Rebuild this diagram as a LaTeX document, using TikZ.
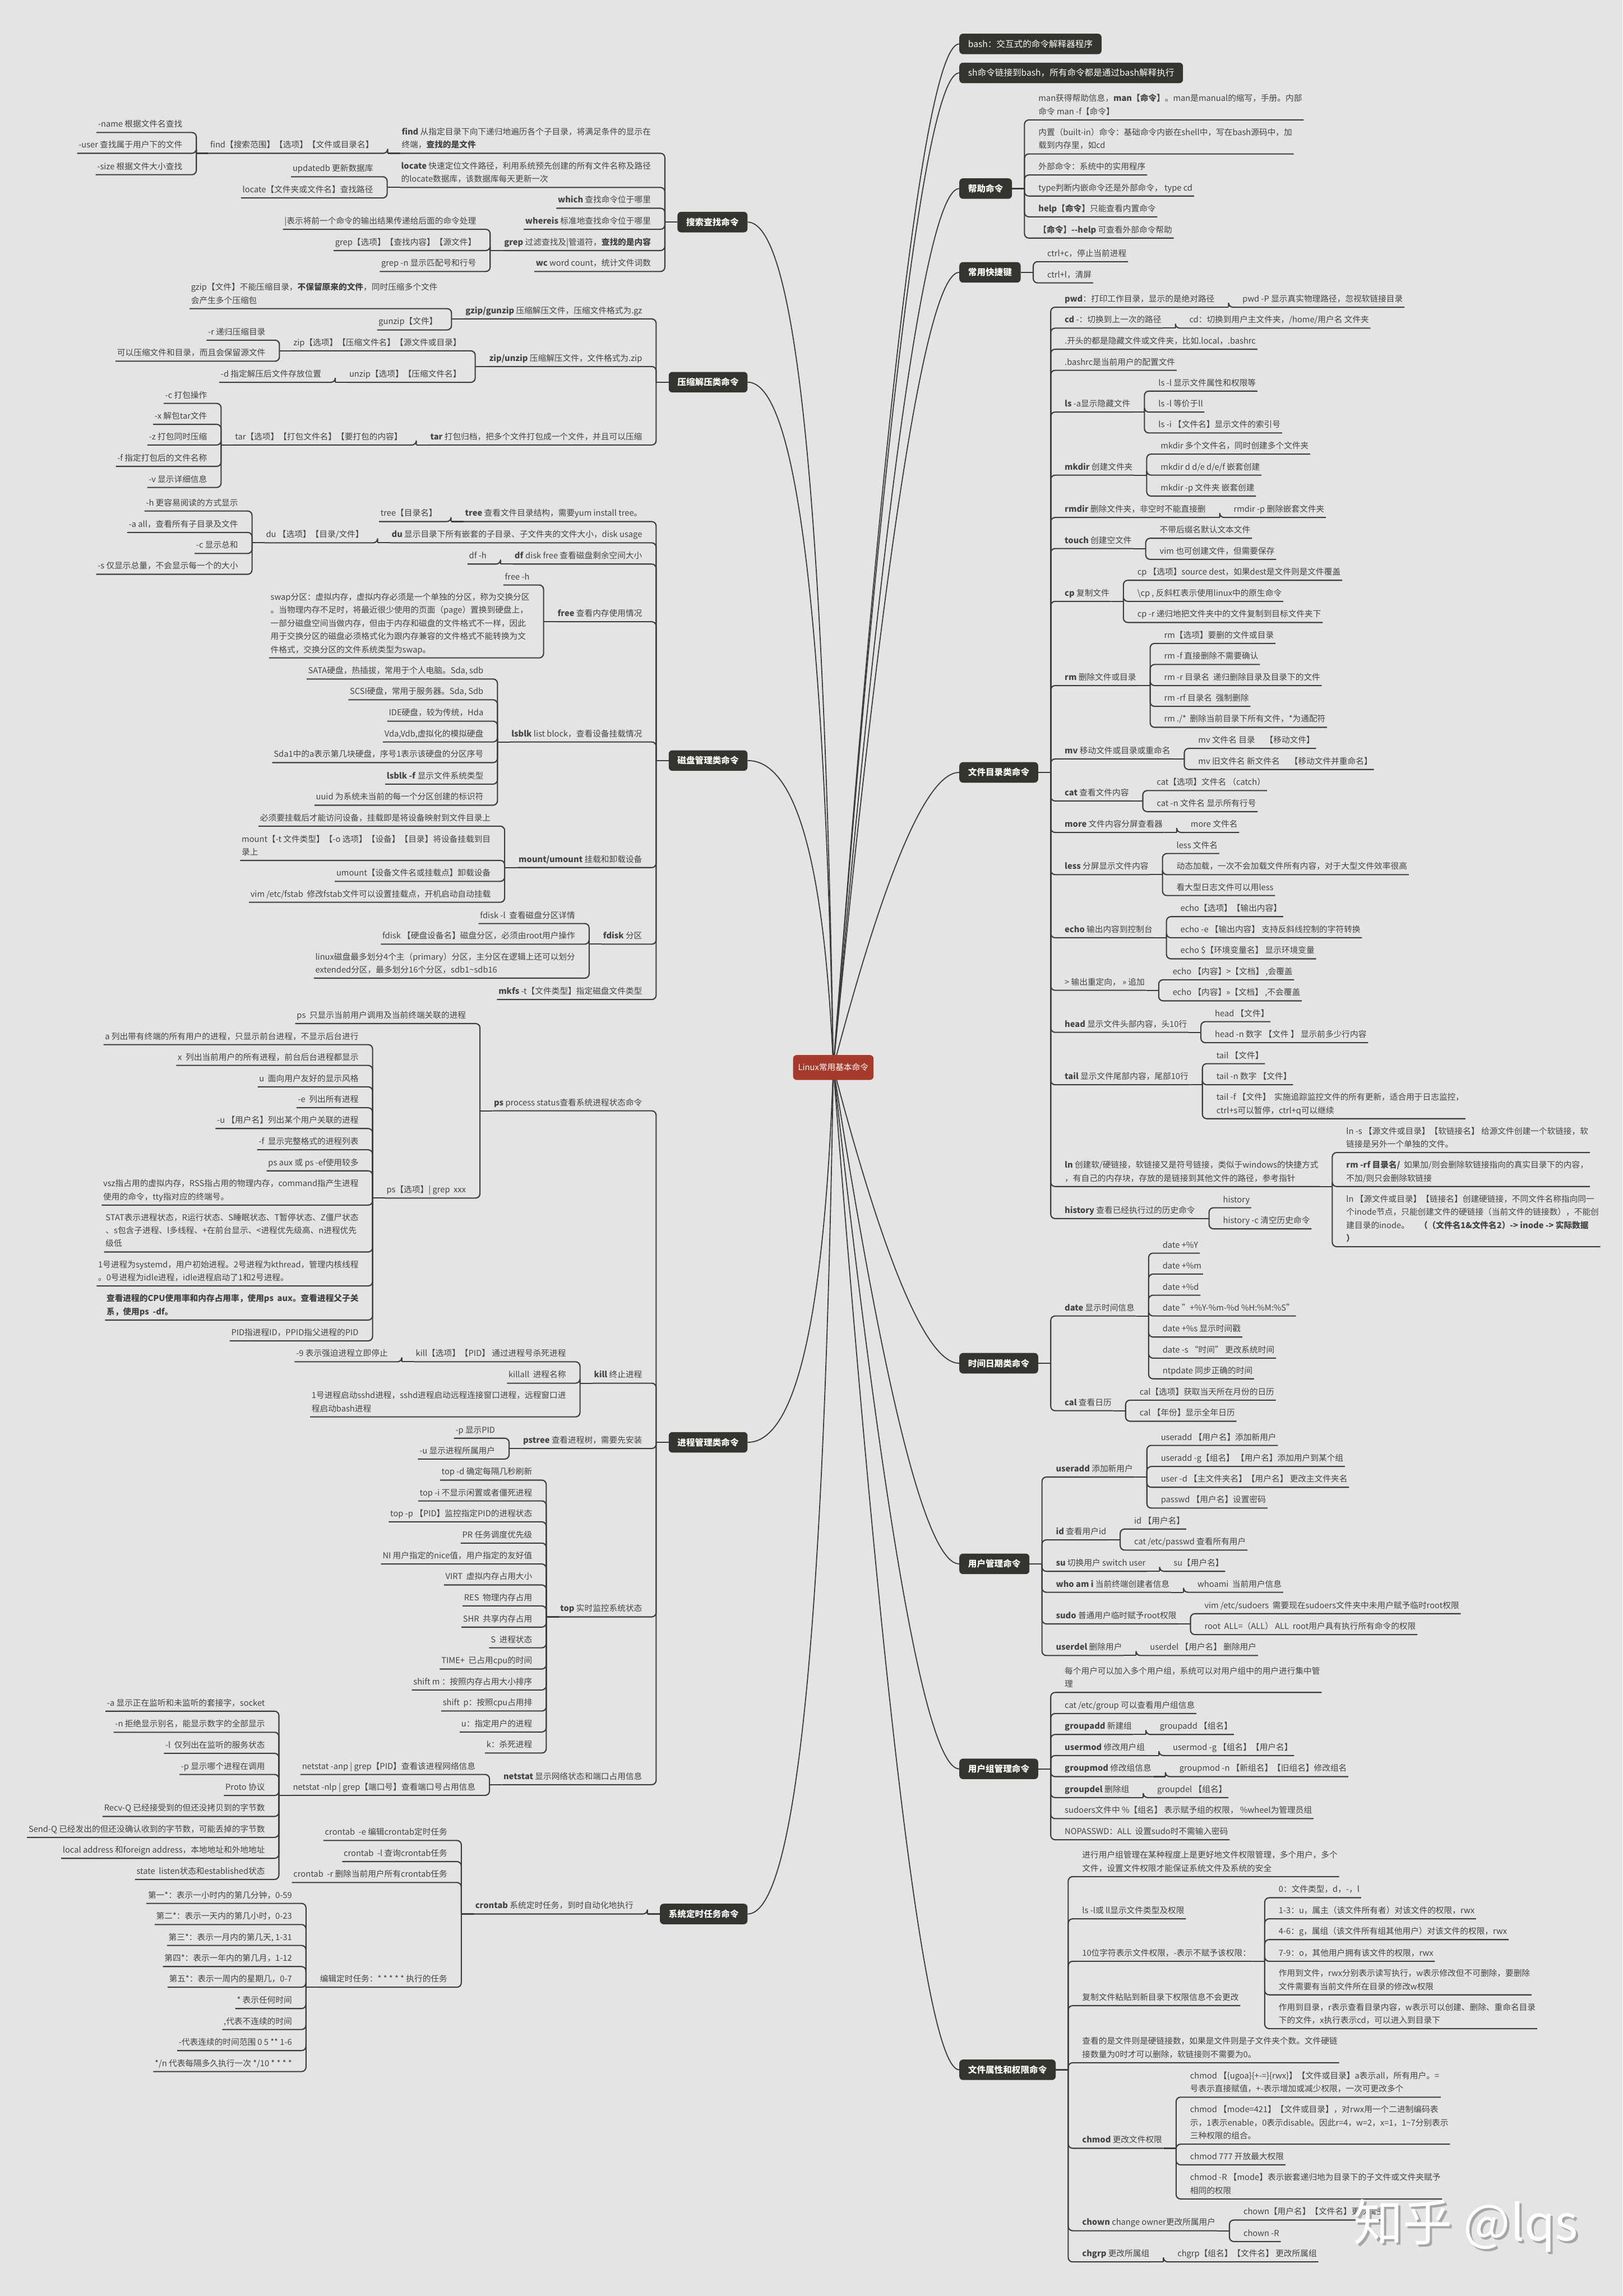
\documentclass[tikz,border=0pt]{standalone}
\usepackage{fontspec}
\setmainfont{Noto Sans CJK SC}
\usetikzlibrary{calc}
\definecolor{bgc}{HTML}{E4E4E4}
\definecolor{lnc}{HTML}{3C3C3C}
\definecolor{txc}{HTML}{444444}
\definecolor{tpc}{HTML}{35352F}
\definecolor{rtc}{HTML}{A63A2B}
% nhanh ben phai: #1 ten, #2 nut cha, #3 y, #4 chu
\newcommand{\kidR}[4]{%
  \node[leaf,anchor=south west,xshift=8.5mm] (#1) at (#2-s |- 0,#3) {#4};
  \draw[link] (#2-e) -- (#2-s);
  \draw[link,rounded corners=3mm] (#2-s) |- (#1.south east);
  \coordinate (#1-e) at (#1.south east);
  \coordinate (#1-s) at ([xshift=8.5mm]#1.south east);}
% nhanh ben trai
\newcommand{\kidL}[4]{%
  \node[leaf,anchor=south east,xshift=-8.5mm] (#1) at (#2-s |- 0,#3) {#4};
  \draw[link] (#2-e) -- (#2-s);
  \draw[link,rounded corners=3mm] (#2-s) |- (#1.south west);
  \coordinate (#1-e) at (#1.south west);
  \coordinate (#1-s) at ([xshift=-8.5mm]#1.south west);}
% chu de chinh
\newcommand{\topicR}[4][]{%
  \node[topic,anchor=west,#1] (#2) at (655,#3) {#4};
  \draw[curve] (rc) .. controls ($(rc)!2/3!(622,#3)$) and ($(#2.west)!2/3!(622,#3)$) .. (#2.west);
  \coordinate (#2-e) at (#2.east);
  \coordinate (#2-s) at ([xshift=8.5mm]#2.east);}
\newcommand{\topicL}[3]{%
  \node[topic,anchor=east] (#1) at (510.5,#2) {#3};
  \draw[curve] (rc) .. controls ($(rc)!2/3!(560,#2)$) and ($(#1.east)!2/3!(560,#2)$) .. (#1.east);
  \coordinate (#1-e) at (#1.west);
  \coordinate (#1-s) at ([xshift=-8.5mm]#1.west);}
\begin{document}
\begin{tikzpicture}[x=1mm,y=-1mm,
  leaf/.style={font=\fontsize{16}{25.5}\selectfont,text=txc,align=left,inner xsep=1mm,inner ysep=0.9mm,execute at end node=\strut},
  link/.style={draw=lnc,line width=0.8mm},
  curve/.style={draw=lnc,line width=0.7mm},
  topic/.style={fill=tpc,text=white,font=\fontsize{17}{20}\selectfont\bfseries,rounded corners=2.5mm,inner xsep=6mm,minimum height=14mm},
  plain/.style={font=\fontsize{17}{20}\selectfont},
  root/.style={fill=rtc,text=white,font=\fontsize{16}{20}\selectfont,rounded corners=2.5mm,inner xsep=3.5mm,minimum height=17mm}]
\path[use as bounding box,fill=bgc] (0,0) rectangle (1108,1568);
\coordinate (rc) at (569,729);

%Bash
\topicR[plain]{bs}{30}{bash：交互式的命令解释器程序}
\topicR[plain]{sh}{49.8}{sh命令链接到bash，所有命令都是通过bash解释执行}

%Tro giup
\topicR{hp}{128.8}{帮助命令}
\kidR{hp1}{hp}{81.9}{man获得帮助信息，\textbf{man【命令】}。man是manual的缩写，手册。内部\\命令 man -f【命令】}
\kidR{hp2}{hp}{105.1}{内置（built-in）命令：基础命令内嵌在shell中，写在bash源码中，加\\载到内存里，如cd}
\kidR{hp3}{hp}{119.5}{外部命令：系统中的实用程序}
\kidR{hp4}{hp}{133.9}{type判断内嵌命令还是外部命令， type cd}
\kidR{hp5}{hp}{148.1}{\textbf{help【命令】}只能查看内置命令}
\kidR{hp6}{hp}{162.6}{\textbf{【命令】-{}-help} 可查看外部命令帮助}

%Phim tat
\topicR{kb}{186}{常用快捷键}
\kidR{kb1}{kb}{178.7}{ctrl+c，停止当前进程}
\kidR{kb2}{kb}{193.2}{ctrl+l，清屏}

%Thu muc
\topicR{fd}{527.5}{文件目录类命令}
\kidR{fd1}{fd}{209.8}{\textbf{pwd}：打印工作目录，显示的是绝对路径}
\kidR{fd1a}{fd1}{209.8}{pwd -P 显示真实物理路径，忽视软链接目录}
\kidR{fd2}{fd}{224.1}{\textbf{cd} -：切换到上一次的路径}
\kidR{fd2a}{fd2}{224.1}{cd：切换到用户主文件夹，/home/用户名 文件夹}
\kidR{fd3}{fd}{238.5}{.开头的都是隐藏文件或文件夹，比如.local，.bashrc}
\kidR{fd4}{fd}{252.9}{.bashrc是当前用户的配置文件}
\kidR{fd5}{fd}{281.4}{\textbf{ls} -a显示隐藏文件}
\kidR{fd5a}{fd5}{267.1}{ls -l 显示文件属性和权限等}
\kidR{fd5b}{fd5}{281.4}{ls -l 等价于ll}
\kidR{fd5c}{fd5}{295.7}{ls -i 【文件名】显示文件的索引号}
\kidR{fd6}{fd}{324.5}{\textbf{mkdir} 创建文件夹}
\kidR{fd6a}{fd6}{310.1}{mkdir 多个文件名，同时创建多个文件夹}
\kidR{fd6b}{fd6}{324.5}{mkdir d d/e d/e/f 嵌套创建}
\kidR{fd6c}{fd6}{338.8}{mkdir -p 文件夹 嵌套创建}
\kidR{fd7}{fd}{353.4}{\textbf{rmdir} 删除文件夹，非空时不能直接删}
\kidR{fd7a}{fd7}{353.4}{rmdir -p 删除嵌套文件夹}
\kidR{fd8}{fd}{374.6}{\textbf{touch} 创建空文件}
\kidR{fd8a}{fd8}{367.6}{不带后缀名默认文本文件}
\kidR{fd8b}{fd8}{382.0}{vim 也可创建文件，但需要保存}
\kidR{fd9}{fd}{410.7}{\textbf{cp} 复制文件}
\kidR{fd9a}{fd9}{396.3}{cp 【选项】source dest，如果dest是文件则是文件覆盖}
\kidR{fd9b}{fd9}{410.7}{\textbackslash cp , 反斜杠表示使用linux中的原生命令}
\kidR{fd9c}{fd9}{425.1}{cp -r 递归地把文件夹中的文件复制到目标文件夹下}
\kidR{fd10}{fd}{468.2}{\textbf{rm} 删除文件或目录}
\kidR{fd10a}{fd10}{439.4}{rm【选项】要删的文件或目录}
\kidR{fd10b}{fd10}{453.8}{rm -f 直接删除不需要确认}
\kidR{fd10c}{fd10}{468.2}{rm -r 目录名 \ 递归删除目录及目录下的文件}
\kidR{fd10d}{fd10}{482.4}{rm -rf 目录名 \ 强制删除}
\kidR{fd10e}{fd10}{496.7}{rm ./* \ 删除当前目录下所有文件，*为通配符}
\kidR{fd11}{fd}{518.3}{\textbf{mv} 移动文件或目录或重命名}
\kidR{fd11a}{fd11}{511.1}{mv 文件名 目录 \quad【移动文件】}
\kidR{fd11b}{fd11}{525.5}{mv 旧文件名 新文件名 \quad【移动文件并重命名】}
\kidR{fd12}{fd}{547.0}{\textbf{cat} 查看文件内容}
\kidR{fd12a}{fd12}{539.9}{cat【选项】文件名 （catch）}
\kidR{fd12b}{fd12}{554.3}{cat -n 文件名 显示所有行号}
\kidR{fd13}{fd}{568.5}{\textbf{more} 文件内容分屏查看器}
\kidR{fd13a}{fd13}{568.5}{more 文件名}
\kidR{fd14}{fd}{597.3}{\textbf{less} 分屏显示文件内容}
\kidR{fd14a}{fd14}{582.9}{less 文件名}
\kidR{fd14b}{fd14}{597.3}{动态加载，一次不会加载文件所有内容，对于大型文件效率很高}
\kidR{fd14c}{fd14}{611.6}{看大型日志文件可以用less}
\kidR{fd15}{fd}{640.4}{\textbf{echo} 输出内容到控制台}
\kidR{fd15a}{fd15}{626.0}{echo【选项】【输出内容】}
\kidR{fd15b}{fd15}{640.4}{echo -e 【输出内容】 支持反斜线控制的字符转换}
\kidR{fd15c}{fd15}{654.8}{echo \$【环境变量名】 显示环境变量}
\kidR{fd16}{fd}{676.3}{> 输出重定向， >> 追加}
\kidR{fd16a}{fd16}{669.1}{echo 【内容】>【文档】 ,会覆盖}
\kidR{fd16b}{fd16}{683.5}{echo 【内容】>>【文档】 ,不会覆盖}
\kidR{fd17}{fd}{705.0}{\textbf{head} 显示文件头部内容，头10行}
\kidR{fd17a}{fd17}{697.7}{head 【文件】}
\kidR{fd17b}{fd17}{712.1}{head -n 数字 【文件 】 显示前多少行内容}
\kidR{fd18}{fd}{740.8}{\textbf{tail} 显示文件尾部内容，尾部10行}
\kidR{fd18a}{fd18}{726.4}{tail 【文件】}
\kidR{fd18b}{fd18}{740.8}{tail -n 数字 【文件】}
\kidR{fd18c}{fd18}{764.0}{tail -f 【文件】 \ 实施追踪监控文件的所有更新，适合用于日志监控，\\ctrl+s可以暂停，ctrl+q可以继续}
\kidR{fd19}{fd}{810.3}{\textbf{ln} 创建软/硬链接，软链接又是符号链接，类似于windows的快捷方式\\，有自己的内存块，存放的是链接到其他文件的路径，参考指针}
\kidR{fd19a}{fd19}{787.1}{ln -s 【源文件或目录】【软链接名】 给源文件创建一个软链接，软\\链接是另外一个单独的文件。}
\kidR{fd19b}{fd19}{810.3}{\textbf{rm -rf 目录名/} \ 如果加/则会删除软链接指向的真实目录下的内容，\\不加/则只会删除软链接}
\kidR{fd19c}{fd19}{851.4}{ln 【源文件或目录】【链接名】创建硬链接，不同文件名称指向同一\\个inode节点，只能创建文件的硬链接（当前文件的链接数），不能创\\建目录的inode。 \quad \textbf{（（文件名1\&文件名2）-> inode -> 实际数据}\\\textbf{）}}
\kidR{fd20}{fd}{832.2}{\textbf{history} 查看已经执行过的历史命令}
\kidR{fd20a}{fd20}{824.8}{history}
\kidR{fd20b}{fd20}{839.2}{history -c 清空历史命令}

%Thoi gian
\topicR{td}{931}{时间日期类命令}
\kidR{td1}{td}{898.7}{\textbf{date} 显示时间信息}
\kidR{td1a}{td1}{855.8}{date +\%Y}
\kidR{td1b}{td1}{870.1}{date +\%m}
\kidR{td1c}{td1}{884.5}{date +\%d}
\kidR{td1d}{td1}{898.7}{date "+\%Y-\%m-\%d \%H:\%M:\%S"}
\kidR{td1e}{td1}{913.1}{date +\%s 显示时间戳}
\kidR{td1f}{td1}{927.5}{date -s “时间” 更改系统时间}
\kidR{td1g}{td1}{941.6}{ntpdate 同步正确的时间}
\kidR{td2}{td}{963.4}{\textbf{cal} 查看日历}
\kidR{td2a}{td2}{956.2}{cal【选项】获取当天所在月份的日历}
\kidR{td2b}{td2}{970.6}{cal 【年份】显示全年日历}

%Nguoi dung
\topicR{us}{1068}{用户管理命令}
\kidR{us1}{us}{1008.7}{\textbf{useradd} 添加新用户}
\kidR{us1a}{us1}{987.1}{useradd 【用户名】添加新用户}
\kidR{us1b}{us1}{1001.5}{useradd -g【组名】 【用户名】添加用户到某个组}
\kidR{us1c}{us1}{1015.7}{user -d 【主文件夹名】【用户名】 更改主文件夹名}
\kidR{us1d}{us1}{1029.9}{passwd 【用户名】设置密码}
\kidR{us2}{us}{1051.6}{\textbf{id} 查看用户id}
\kidR{us2a}{us2}{1044.2}{id 【用户名】}
\kidR{us2b}{us2}{1058.6}{cat /etc/passwd 查看所有用户}
\kidR{us3}{us}{1073.1}{\textbf{su} 切换用户 switch user}
\kidR{us3a}{us3}{1073.1}{su【用户名】}
\kidR{us4}{us}{1087.4}{\textbf{who am i} 当前终端创建者信息}
\kidR{us4a}{us4}{1087.4}{whoami \ 当前用户信息}
\kidR{us5}{us}{1109.0}{\textbf{sudo} 普通用户临时赋予root权限}
\kidR{us5a}{us5}{1102.0}{vim /etc/sudoers \ 需要现在sudoers文件夹中未用户赋予临时root权限}
\kidR{us5b}{us5}{1116.3}{root \ ALL=（ALL） ALL \ root用户具有执行所有命令的权限}
\kidR{us6}{us}{1130.6}{\textbf{userdel} 删除用户}
\kidR{us6a}{us6}{1130.6}{userdel 【用户名】 删除用户}

%Nhom
\topicR{gp}{1208}{用户组管理命令}
\kidR{gp1}{gp}{1155.8}{每个用户可以加入多个用户组，系统可以对用户组中的用户进行集中管\\理}
\kidR{gp2}{gp}{1170.2}{cat /etc/group 可以查看用户组信息}
\kidR{gp3}{gp}{1184.5}{\textbf{groupadd} 新建组}
\kidR{gp3a}{gp3}{1184.5}{groupadd 【组名】}
\kidR{gp4}{gp}{1198.9}{\textbf{usermod} 修改用户组}
\kidR{gp4a}{gp4}{1198.9}{usermod -g 【组名】【用户名】}
\kidR{gp5}{gp}{1213.3}{\textbf{groupmod} 修改组信息}
\kidR{gp5a}{gp5}{1213.3}{groupmod -n 【新组名】【旧组名】修改组名}
\kidR{gp6}{gp}{1227.6}{\textbf{groupdel} 删除组}
\kidR{gp6a}{gp6}{1227.6}{groupdel 【组名】}
\kidR{gp7}{gp}{1242.0}{sudoers文件中 \%【组名】 表示赋予组的权限， \%wheel为管理员组}
\kidR{gp8}{gp}{1256.4}{NOPASSWD：ALL \ 设置sudo时不需输入密码}

%Quyen
\topicR{pm}{1413.5}{文件属性和权限命令}
\kidR{pm1}{pm}{1281.6}{进行用户组管理在某种程度上是更好地文件权限管理，多个用户，多个\\文件，设置文件权限才能保证系统文件及系统的安全}
\kidR{pm2}{pm}{1310.4}{ls -l或 ll显示文件类型及权限}
\kidR{pm3}{pm}{1339.4}{10位字符表示文件权限，-表示不赋予该权限：}
\kidR{pm3a}{pm3}{1296.0}{0：文件类型，d，-，l}
\kidR{pm3b}{pm3}{1310.4}{1-3：u，属主（该文件所有者）对该文件的权限，rwx}
\kidR{pm3c}{pm3}{1324.6}{4-6：g，属组（该文件所有组其他用户）对该文件的权限，rwx}
\kidR{pm3d}{pm3}{1339.4}{7-9：o，其他用户拥有该文件的权限，rwx}
\kidR{pm3e}{pm3}{1362.3}{作用到文件，rwx分别表示读写执行，w表示修改但不可删除，要删除\\文件需要有当前文件所在目录的修改w权限}
\kidR{pm3f}{pm3}{1385.4}{作用到目录，r表示查看目录内容，w表示可以创建、删除、重命名目录\\下的文件，x执行表示cd，可以进入到目录下}
\kidR{pm4}{pm}{1369.7}{复制文件粘贴到新目录下权限信息不会更改}
\kidR{pm5}{pm}{1408.7}{查看的是文件则是硬链接数，如果是文件则是子文件夹个数。文件硬链\\接数量为0时才可以删除，软链接则不需要为0。}
\kidR{pm6}{pm}{1467.1}{\textbf{chmod} 更改文件权限}
\kidR{pm6a}{pm6}{1432.2}{chmod 【\{ugoa\}\{+-=\}\{rwx\}】【文件或目录】a表示all，所有用户。=\\号表示直接赋值，+-表示增加或减少权限，一次可更改多个}
\kidR{pm6b}{pm6}{1464.3}{chmod 【mode=421】【文件或目录】，对rwx用一个二进制编码表\\示，1表示enable，0表示disable。因此r=4，w=2，x=1，1\textasciitilde 7分别表示\\三种权限的组合。}
\kidR{pm6c}{pm6}{1478.4}{chmod 777 开放最大权限}
\kidR{pm6d}{pm6}{1501.7}{chmod -R 【mode】表示嵌套递归地为目录下的子文件或文件夹赋予\\相同的权限}
\kidR{pm7}{pm}{1523.4}{\textbf{chown} change owner更改所属用户}
\kidR{pm7a}{pm7}{1516.1}{chown【用户名】【文件名】更改属主}
\kidR{pm7b}{pm7}{1530.8}{chown -R}
\kidR{pm8}{pm}{1544.7}{\textbf{chgrp} 更改所属组}
\kidR{pm8a}{pm8}{1544.7}{chgrp【组名】【文件名】 更改所属组}

%Tim kiem
\topicL{sc}{151.7}{搜索查找命令}
\kidL{sc1}{sc}{104.7}{\textbf{find} 从指定目录下向下递归地遍历各个子目录，将满足条件的显示在\\终端，\textbf{查找的是文件}}
\kidL{sc1a}{sc1}{104.7}{find【搜索范围】【选项】【文件或目录名】}
\kidL{sc1a1}{sc1a}{90.5}{-name 根据文件名查找}
\kidL{sc1a2}{sc1a}{104.7}{-user 查找属于用户下的文件}
\kidL{sc1a3}{sc1a}{119.3}{-size 根据文件大小查找}
\kidL{sc2}{sc}{128.0}{\textbf{locate} 快速定位文件路径，利用系统预先创建的所有文件名称及路径\\的locate数据库，该数据库每天更新一次}
\kidL{sc2a}{sc2}{120.7}{updatedb 更新数据库}
\kidL{sc2b}{sc2}{135.2}{locate【文件夹或文件名】查找路径}
\kidL{sc3}{sc}{142.2}{\textbf{which} 查找命令位于哪里}
\kidL{sc4}{sc}{156.6}{\textbf{whereis} 标准地查找命令位于哪里}
\kidL{sc5}{sc}{171.1}{\textbf{grep} 过滤查找及|管道符，\textbf{查找的是内容}}
\kidL{sc5a}{sc5}{156.6}{|表示将前一个命令的输出结果传递给后面的命令处理}
\kidL{sc5b}{sc5}{171.1}{grep【选项】【查找内容】【源文件】}
\kidL{sc5c}{sc5}{185.4}{grep -n 显示匹配号和行号}
\kidL{sc6}{sc}{185.4}{\textbf{wc} word count，统计文件词数}

%Nen
\topicL{zp}{261}{压缩解压类命令}
\kidL{zp1}{zp}{217.8}{\textbf{gzip/gunzip} 压缩解压文件，压缩文件格式为.gz}
\kidL{zp1a}{zp1}{210.8}{gzip【文件】不能压缩目录，\textbf{不保留原来的文件}，同时压缩多个文件\\会产生多个压缩包}
\kidL{zp1b}{zp1}{225.3}{gunzip【文件】}
\kidL{zp2}{zp}{250.3}{\textbf{zip/unzip} 压缩解压文件，文件格式为.zip}
\kidL{zp2a}{zp2}{239.6}{zip【选项】【压缩文件名】【源文件或目录】}
\kidL{zp2a1}{zp2a}{232.3}{-r 递归压缩目录}
\kidL{zp2a2}{zp2a}{246.7}{可以压缩文件和目录，而且会保留源文件}
\kidL{zp2b}{zp2}{261.1}{unzip【选项】【压缩文件名】}
\kidL{zp2b1}{zp2b}{261.1}{-d 指定解压后文件存放位置}
\kidL{zp3}{zp}{303.9}{\textbf{tar} 打包归档，把多个文件打包成一个文件，并且可以压缩}
\kidL{zp3a}{zp3}{303.9}{tar【选项】【打包文件名】【要打包的内容】}
\kidL{zp3a1}{zp3a}{275.5}{-c 打包操作}
\kidL{zp3a2}{zp3a}{289.8}{-x 解包tar文件}
\kidL{zp3a3}{zp3a}{303.9}{-z 打包同时压缩}
\kidL{zp3a4}{zp3a}{318.5}{-f 指定打包后的文件名称}
\kidL{zp3a5}{zp3a}{332.9}{-v 显示详细信息}

%O dia
\topicL{dk}{519.4}{磁盘管理类命令}
\kidL{dk1}{dk}{356.2}{\textbf{tree} 查看文件目录结构，需要yum install tree。}
\kidL{dk1a}{dk1}{356.2}{tree【目录名】}
\kidL{dk2}{dk}{370.7}{\textbf{du} 显示目录下所有嵌套的子目录、子文件夹的文件大小，disk usage}
\kidL{dk2a}{dk2}{370.7}{du 【选项】【目录/文件】}
\kidL{dk2a1}{dk2a}{349.0}{-h 更容易阅读的方式显示}
\kidL{dk2a2}{dk2a}{363.6}{-a all，查看所有子目录及文件}
\kidL{dk2a3}{dk2a}{378.0}{-c 显示总和}
\kidL{dk2a4}{dk2a}{392.2}{-s 仅显示总量，不会显示每一个的大小}
\kidL{dk3}{dk}{385.2}{\textbf{df} disk free 查看磁盘剩余空间大小}
\kidL{dk3a}{dk3}{385.2}{df -h}
\kidL{dk4}{dk}{424.6}{\textbf{free} 查看内存使用情况}
\kidL{dk4a}{dk4}{399.5}{free -h}
\kidL{dk4b}{dk4}{449.3}{swap分区：虚拟内存，虚拟内存必须是一个单独的分区，称为交换分区\\。当物理内存不足时，将最近很少使用的页面（page）置换到硬盘上，\\一部分磁盘空间当做内存，但由于内存和磁盘的文件格式不一样，因此\\用于交换分区的磁盘必须格式化为跟内存兼容的文件格式不能转换为文\\件格式，交换分区的文件系统类型为swap。}
\kidL{dk5}{dk}{506.7}{\textbf{lsblk} list block，查看设备挂载情况}
\kidL{dk5a}{dk5}{463.7}{SATA硬盘，热插拔，常用于个人电脑。Sda, sdb}
\kidL{dk5b}{dk5}{477.9}{SCSI硬盘，常用于服务器。Sda, Sdb}
\kidL{dk5c}{dk5}{492.5}{IDE硬盘，较为传统，Hda}
\kidL{dk5d}{dk5}{506.7}{Vda,Vdb,虚拟化的模拟硬盘}
\kidL{dk5e}{dk5}{520.8}{Sda1中的a表示第几块硬盘，序号1表示该硬盘的分区序号}
\kidL{dk5f}{dk5}{535.5}{\textbf{lsblk -f} 显示文件系统类型}
\kidL{dk5g}{dk5}{549.9}{uuid 为系统未当前的每一个分区创建的标识符}
\kidL{dk6}{dk}{592.5}{\textbf{mount/umount} 挂载和卸载设备}
\kidL{dk6a}{dk6}{564.2}{必须要挂载后才能访问设备，挂载即是将设备映射到文件目录上}
\kidL{dk6b}{dk6}{587.6}{mount【-t 文件类型】【-o 选项】【设备】【目录】将设备挂载到目\\录上}
\kidL{dk6c}{dk6}{601.9}{umount【设备文件名或挂载点】卸载设备}
\kidL{dk6d}{dk6}{616.2}{vim /etc/fstab \ 修改fstab文件可以设置挂载点，开机启动自动挂载}
\kidL{dk7}{dk}{644.8}{\textbf{fdisk} 分区}
\kidL{dk7a}{dk7}{630.7}{fdisk -l \ 查看磁盘分区详情}
\kidL{dk7b}{dk7}{644.8}{fdisk 【硬盘设备名】磁盘分区，必须由root用户操作}
\kidL{dk7c}{dk7}{668.0}{linux磁盘最多划分4个主（primary）分区，主分区在逻辑上还可以划分\\extended分区，最多划分16个分区，sdb1\textasciitilde sdb16}
\kidL{dk8}{dk}{682.6}{\textbf{mkfs} -t【文件类型】指定磁盘文件类型}

%Tien trinh
\topicL{pc}{985}{进程管理类命令}
\kidL{pc1}{pc}{758.6}{\textbf{ps} process status查看系统进程状态命令}
\kidL{pc1a}{pc1}{699.0}{ps \ 只显示当前用户调用及当前终端关联的进程}
\kidL{pc1b}{pc1}{818.2}{ps【选项】| grep \ xxx}
\kidL{pc1b1}{pc1b}{713.4}{a 列出带有终端的所有用户的进程，只显示前台进程，不显示后台进行}
\kidL{pc1b2}{pc1b}{727.6}{x \ 列出当前用户的所有进程，前台后台进程都显示}
\kidL{pc1b3}{pc1b}{742.2}{u \ 面向用户友好的显示风格}
\kidL{pc1b4}{pc1b}{756.5}{-e \ 列出所有进程}
\kidL{pc1b5}{pc1b}{770.7}{-u 【用户名】列出某个用户关联的进程}
\kidL{pc1b6}{pc1b}{785.2}{-f \ 显示完整格式的进程列表}
\kidL{pc1b7}{pc1b}{799.6}{ps aux 或 ps -ef使用较多}
\kidL{pc1b8}{pc1b}{823.0}{vsz指占用的虚拟内存，RSS指占用的物理内存，command指产生进程\\使用的命令，tty指对应的终端号。}
\kidL{pc1b9}{pc1b}{855.0}{STAT表示进程状态，R运行状态、S睡眠状态、T暂停状态、Z僵尸状态\\、s包含子进程、l多线程、+在前台显示、<进程优先级高、n进程优先\\级低}
\kidL{pc1b10}{pc1b}{878.2}{1号进程为systemd，用户初始进程。2号进程为kthread，管理内核线程\\。0号进程为idle进程，idle进程启动了1和2号进程。}
\kidL{pc1b11}{pc1b}{901.5}{\textbf{查看进程的CPU使用率和内存占用率，使用ps \ aux。查看进程父子关}\\\textbf{系，使用ps \ -df。}}
\kidL{pc1b12}{pc1b}{915.7}{PID指进程ID，PPID指父进程的PID}
\kidL{pc2}{pc}{944.6}{\textbf{kill} 终止进程}
\kidL{pc2a}{pc2}{930.0}{kill【选项】【PID】 通过进程号杀死进程}
\kidL{pc2a1}{pc2a}{930.0}{-9 表示强迫进程立即停止}
\kidL{pc2b}{pc2}{944.6}{killall \ 进程名称}
\kidL{pc2c}{pc2}{967.6}{1号进程启动sshd进程，sshd进程启动远程连接窗口进程，远程窗口进\\程启动bash进程}
\kidL{pc3}{pc}{989.2}{\textbf{pstree} 查看进程树，需要先安装}
\kidL{pc3a}{pc3}{982.2}{-p 显示PID}
\kidL{pc3b}{pc3}{996.4}{-u 显示进程所属用户}
\kidL{pc4}{pc}{1104.2}{\textbf{top} 实时监控系统状态}
\kidL{pc4a}{pc4}{1010.8}{top -d 确定每隔几秒刷新}
\kidL{pc4b}{pc4}{1025.0}{top -i 不显示闲置或者僵死进程}
\kidL{pc4c}{pc4}{1039.3}{top -p 【PID】监控指定PID的进程状态}
\kidL{pc4d}{pc4}{1053.8}{PR 任务调度优先级}
\kidL{pc4e}{pc4}{1068.1}{NI 用户指定的nice值，用户指定的友好值}
\kidL{pc4f}{pc4}{1082.4}{VIRT \ 虚拟内存占用大小}
\kidL{pc4g}{pc4}{1096.7}{RES \ 物理内存占用}
\kidL{pc4h}{pc4}{1111.2}{SHR \ 共享内存占用}
\kidL{pc4i}{pc4}{1125.3}{S \ 进程状态}
\kidL{pc4j}{pc4}{1139.8}{TIME+ \ 已占用cpu的时间}
\kidL{pc4k}{pc4}{1154.1}{shift m ：按照内存占用大小排序}
\kidL{pc4l}{pc4}{1168.5}{shift \ p：按照cpu占用排}
\kidL{pc4m}{pc4}{1182.8}{u：指定用户的进程}
\kidL{pc4n}{pc4}{1197.2}{k：杀死进程}
\kidL{pc5}{pc}{1218.8}{\textbf{netstat} 显示网络状态和端口占用信息}
\kidL{pc5a}{pc5}{1211.8}{netstat -anp | grep【PID】查看该进程网络信息}
\kidL{pc5b}{pc5}{1226.1}{netstat -nlp | grep【端口号】查看端口号占用信息}
\kidL{pc5b1}{pc5b}{1168.6}{-a 显示正在监听和未监听的套接字，socket}
\kidL{pc5b2}{pc5b}{1183.0}{-n 拒绝显示别名，能显示数字的全部显示}
\kidL{pc5b3}{pc5b}{1197.4}{-l \ 仅列出在监听的服务状态}
\kidL{pc5b4}{pc5b}{1211.8}{-p 显示哪个进程在调用}
\kidL{pc5b5}{pc5b}{1226.2}{Proto 协议}
\kidL{pc5b6}{pc5b}{1240.5}{Recv-Q 已经接受到的但还没拷贝到的字节数}
\kidL{pc5b7}{pc5b}{1254.8}{Send-Q 已经发出的但还没确认收到的字节数，可能丢掉的字节数}
\kidL{pc5b8}{pc5b}{1269.1}{local address 和foreign address，本地地址和外地地址}
\kidL{pc5b9}{pc5b}{1283.5}{state \ listen状态和established状态}

%Hen gio
\topicL{ct}{1307.1}{系统定时任务命令}
\kidL{ct1}{ct}{1307.1}{\textbf{crontab} 系统定时任务，到时自动化地执行}
\kidL{ct1a}{ct1}{1256.9}{crontab \ -e 编辑crontab定时任务}
\kidL{ct1b}{ct1}{1271.3}{crontab \ -l 查询crontab任务}
\kidL{ct1c}{ct1}{1285.6}{crontab \ -r 删除当前用户所有crontab任务}
\kidL{ct1d}{ct1}{1357.1}{编辑定时任务：* * * * * 执行的任务}
\kidL{ct1d1}{ct1d}{1299.9}{第一*：表示一小时内的第几分钟，0-59}
\kidL{ct1d2}{ct1d}{1314.3}{第二*：表示一天内的第几小时，0-23}
\kidL{ct1d3}{ct1d}{1328.6}{第三*：表示一月内的第几天, 1-31}
\kidL{ct1d4}{ct1d}{1343.0}{第四*：表示一年内的第几月，1-12}
\kidL{ct1d5}{ct1d}{1357.1}{第五*：表示一周内的星期几，0-7}
\kidL{ct1d6}{ct1d}{1371.7}{* 表示任何时间}
\kidL{ct1d7}{ct1d}{1386.0}{,代表不连续的时间}
\kidL{ct1d8}{ct1d}{1400.4}{-代表连续的时间范围 0 5 ** 1-6}
\kidL{ct1d9}{ct1d}{1414.7}{*/n 代表每隔多久执行一次 */10 * * * *}

%Goc
\node[root] (rt) at (rc) {Linux常用基本命令};

%Dau
\node[font=\fontsize{96}{96}\selectfont,text=gray!70] (wms) at (1002.5,1521.5) {知乎 @lqs};
\node[font=\fontsize{96}{96}\selectfont,text=white] (wm) at (1001,1520) {知乎 @lqs};
\end{tikzpicture}
\end{document}
